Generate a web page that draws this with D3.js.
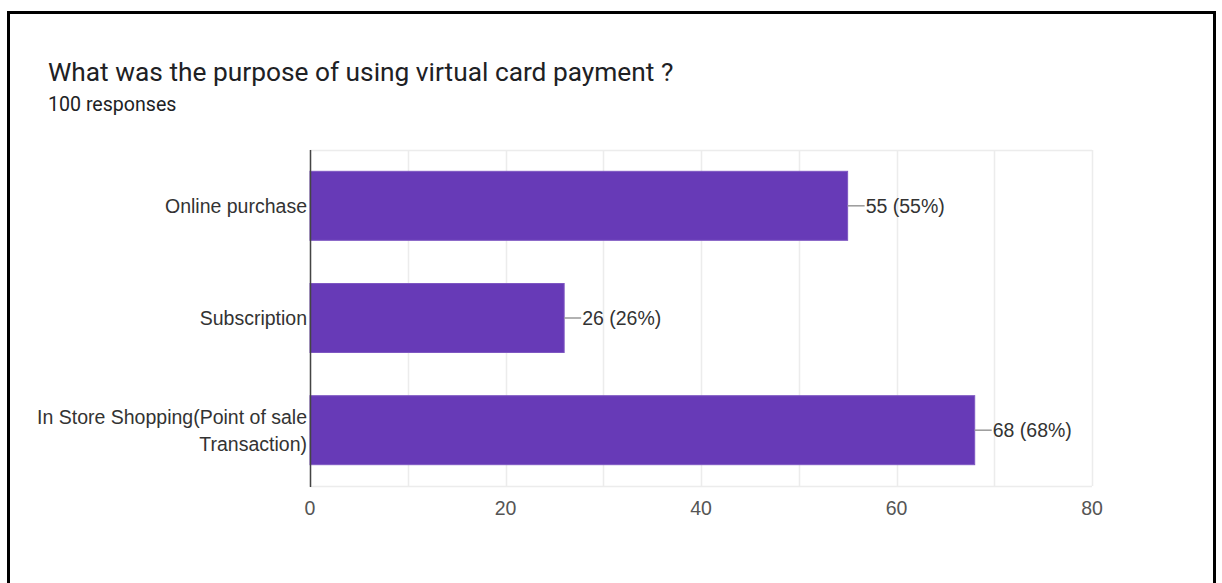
<!DOCTYPE html>
<html>
<head>
<meta charset="utf-8">
<script src="https://cdn.jsdelivr.net/npm/d3@7"></script>
<style>
  html, body { margin: 0; padding: 0; background: #fff; }
  svg { display: block; }
</style>
</head>
<body>
<svg id="chart" width="1222" height="583"></svg>
<script>
// Survey answers: count of respondents per purpose
const categories = ["Online purchase", "Subscription", "In Store Shopping(Point of sale Transaction)"];
const categoryLines = [["Online purchase"], ["Subscription"], ["In Store Shopping(Point of sale", "Transaction)"]];
const counts = [55, 26, 68];
const totalResponses = 100;
const xTicks = [0, 20, 40, 60, 80];
const xGrid = [0, 10, 20, 30, 40, 50, 60, 70, 80];

const svg = d3.select("#chart");
const labelFont = "'Liberation Sans', Arial, sans-serif";
const labelSize = 19.5;

// Outer frame
svg.append("path")
  .attr("d", "M8.5,600 L8.5,12.5 L1214.5,12.5 L1214.5,600")
  .attr("fill", "none")
  .attr("stroke", "#000")
  .attr("stroke-width", 3);

// Heading
svg.append("text")
  .attr("x", 48).attr("y", 81)
  .attr("font-family", "Roboto, sans-serif")
  .attr("font-size", 26.3)
  .attr("fill", "#202124")
  .text("What was the purpose of using virtual card payment ?");

svg.append("text")
  .attr("x", 48).attr("y", 111)
  .attr("font-family", "Roboto, sans-serif")
  .attr("font-size", 19.6)
  .attr("fill", "#202124")
  .text(totalResponses + " responses");

const plotLeft = 310, plotRight = 1092, plotTop = 150, plotBottom = 486;

const x = d3.scaleLinear().domain([0, 80]).range([plotLeft, plotRight]);
const y = d3.scaleBand().domain(categories).range([plotTop, plotBottom]).paddingInner(0.385).paddingOuter(0.19);

// Vertical gridlines
svg.append("g").selectAll("line").data(xGrid).join("line")
  .attr("x1", d => Math.round(x(d)) + 0.5).attr("x2", d => Math.round(x(d)) + 0.5)
  .attr("y1", plotTop).attr("y2", plotBottom)
  .attr("stroke", "#ececec").attr("stroke-width", 1.5);

// Top and bottom gridlines
svg.append("g").selectAll("line").data([plotTop, plotBottom]).join("line")
  .attr("x1", plotLeft).attr("x2", plotRight)
  .attr("y1", d => d + 0.5).attr("y2", d => d + 0.5)
  .attr("stroke", "#ececec").attr("stroke-width", 1.5);

// Bars
svg.append("g").selectAll("rect").data(categories).join("rect")
  .attr("x", x(0))
  .attr("y", d => y(d))
  .attr("width", (d, i) => x(counts[i]) - x(0))
  .attr("height", y.bandwidth())
  .attr("fill", "#673ab7")
  .attr("stroke", "#7e57c2")
  .attr("stroke-width", 1);

// Baseline axis
svg.append("line")
  .attr("x1", plotLeft + 0.5).attr("x2", plotLeft + 0.5)
  .attr("y1", plotTop).attr("y2", plotBottom + 1)
  .attr("stroke", "#444").attr("stroke-width", 1.5);

// Leader lines and value annotations
const ann = svg.append("g");
categories.forEach((c, i) => {
  const xe = x(counts[i]);
  const yc = y(c) + y.bandwidth() / 2;
  ann.append("line")
    .attr("x1", xe).attr("x2", xe + 17)
    .attr("y1", yc).attr("y2", yc)
    .attr("stroke", "#999").attr("stroke-width", 1.5);
  ann.append("text")
    .attr("x", xe + 18).attr("y", yc)
    .attr("dy", "0.35em")
    .attr("font-family", labelFont)
    .attr("font-size", labelSize)
    .attr("fill", "#333")
    .text(counts[i] + " (" + Math.round(counts[i] / totalResponses * 100) + "%)");
});

// Category labels
const cat = svg.append("g");
categories.forEach((c, i) => {
  const lines = categoryLines[i];
  const yc = y(c) + y.bandwidth() / 2;
  const lh = 27;
  const t = cat.append("text")
    .attr("text-anchor", "end")
    .attr("font-family", labelFont)
    .attr("font-size", labelSize)
    .attr("fill", "#333");
  lines.forEach((ln, j) => {
    t.append("tspan")
      .attr("x", plotLeft - 3)
      .attr("y", yc + (j - (lines.length - 1) / 2) * lh)
      .attr("dy", "0.35em")
      .text(ln);
  });
});

// X tick labels
svg.append("g").selectAll("text").data(xTicks).join("text")
  .attr("x", d => x(d))
  .attr("y", 508)
  .attr("dy", "0.35em")
  .attr("text-anchor", "middle")
  .attr("font-family", labelFont)
  .attr("font-size", labelSize)
  .attr("fill", "#555")
  .text(d => d);
</script>
</body>
</html>
